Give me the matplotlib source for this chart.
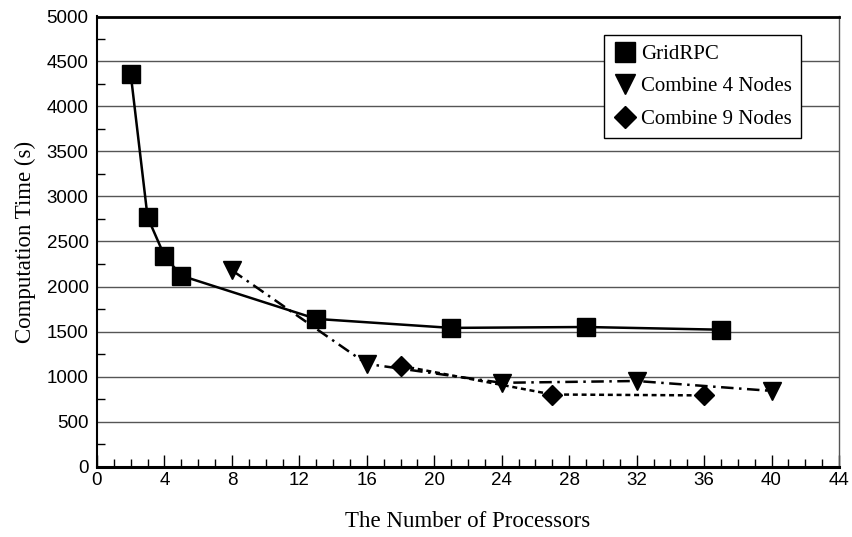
import matplotlib
matplotlib.use("Agg")
import matplotlib.pyplot as plt
from matplotlib.lines import Line2D
from matplotlib.ticker import MultipleLocator

grid_x = [2, 3, 4, 5, 13, 21, 29, 37]
grid_y = [4360, 2770, 2340, 2120, 1640, 1540, 1550, 1520]
c4_x = [8, 16, 24, 32, 40]
c4_y = [2180, 1140, 930, 950, 840]
c9_x = [18, 27, 36]
c9_y = [1120, 800, 790]

series_labels = ["GridRPC", "Combine 4 Nodes", "Combine 9 Nodes"]
x_label = "The Number of Processors"
y_label = "Computation Time (s)"

serif = ["Liberation Serif", "DejaVu Serif"]
sans = ["Liberation Sans", "DejaVu Sans"]

fig = plt.figure(figsize=(8.52, 5.37), dpi=100)
ax = fig.add_axes([97/852, 1 - 466.5/537, (839-97)/852, (466.5-16.5)/537])

ax.plot(grid_x, grid_y, color="black", lw=1.8, marker="s", ms=13, zorder=3)
ax.plot(c4_x, c4_y, color="black", lw=1.8, ls=(0, (5, 2.2, 1, 2.2)),
        marker="v", ms=13, zorder=3)
ax.plot(c9_x, c9_y, color="black", lw=1.8, ls=(0, (2, 1.5)),
        marker="D", ms=10, zorder=3)

ax.set_xlim(0, 44)
ax.set_ylim(0, 5000)
ax.xaxis.set_major_locator(MultipleLocator(4))
ax.xaxis.set_minor_locator(MultipleLocator(1))
ax.yaxis.set_major_locator(MultipleLocator(500))
ax.yaxis.set_minor_locator(MultipleLocator(250))
ax.tick_params(axis="x", which="major", direction="in", length=9, width=1, pad=4)
ax.tick_params(axis="x", which="minor", direction="in", length=6, width=1)
ax.tick_params(axis="y", which="major", direction="in", length=0, pad=6)
ax.tick_params(axis="y", which="minor", direction="in", length=6, width=1)
for lab in ax.get_xticklabels() + ax.get_yticklabels():
    lab.set_fontfamily(sans)
    lab.set_fontsize(13.5)

ax.grid(axis="y", which="major", color="#555555", lw=1.0)
ax.set_axisbelow(True)

ax.spines["bottom"].set_linewidth(2.2)
ax.spines["top"].set_linewidth(2.0)
ax.spines["left"].set_linewidth(1.5)
ax.spines["right"].set_linewidth(1.0)
ax.spines["right"].set_color("#555555")

ax.set_xlabel(x_label, fontfamily=serif, fontsize=16.5, labelpad=16)
ax.set_ylabel(y_label, fontfamily=serif, fontsize=16.5, labelpad=8)

handles = [
    Line2D([], [], color="black", marker="s", ms=14, ls="none"),
    Line2D([], [], color="black", marker="v", ms=14, ls="none"),
    Line2D([], [], color="black", marker="D", ms=11, ls="none"),
]
leg = ax.legend(handles, series_labels, loc="upper right",
                bbox_to_anchor=((801-97)/742, (466.5-35)/450),
                prop={"family": serif, "size": 15}, fancybox=False,
                edgecolor="black", framealpha=1, handletextpad=0.2,
                handlelength=1.1, borderpad=0.45, labelspacing=0.62,
                borderaxespad=0)
leg.get_frame().set_linewidth(1.0)

fig.savefig("out.png", dpi=100)
